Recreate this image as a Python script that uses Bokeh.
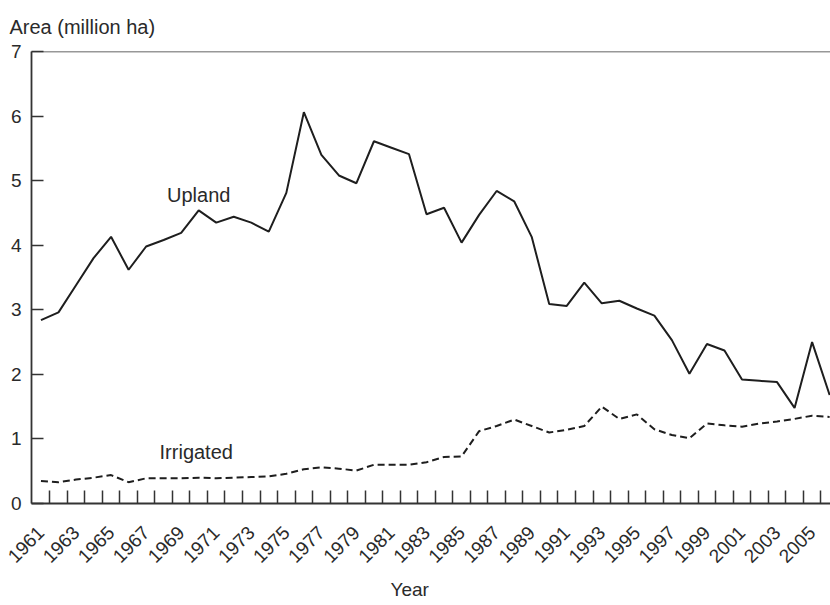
import math
from bokeh.plotting import figure
from bokeh.models import FixedTicker, Span, Label, Title, Range1d, ColumnDataSource
from bokeh.embed import file_html
from bokeh.resources import INLINE

years = list(range(1961, 2007))
upland = [2.84, 2.96, 3.38, 3.80, 4.13, 3.62, 3.98, 4.08, 4.19, 4.54,
          4.35, 4.44, 4.35, 4.21, 4.81, 6.06, 5.40, 5.08, 4.96, 5.61,
          5.51, 5.41, 4.48, 4.58, 4.04, 4.47, 4.84, 4.68, 4.13, 3.09,
          3.06, 3.42, 3.10, 3.14, 3.02, 2.91, 2.53, 2.01, 2.47, 2.37,
          1.92, 1.90, 1.88, 1.48, 2.50, 1.68]
irrigated = [0.35, 0.33, 0.37, 0.40, 0.44, 0.33, 0.39, 0.39, 0.39, 0.40,
             0.39, 0.40, 0.41, 0.42, 0.46, 0.53, 0.56, 0.54, 0.51, 0.60,
             0.60, 0.60, 0.64, 0.72, 0.73, 1.12, 1.20, 1.30, 1.20, 1.10,
             1.14, 1.20, 1.50, 1.31, 1.38, 1.15, 1.06, 1.01, 1.24, 1.21,
             1.19, 1.24, 1.27, 1.31, 1.36, 1.34]
label_years = list(range(1961, 2006, 2))
y_ticks = [0, 1, 2, 3, 4, 5, 6, 7]

FONT = "Liberation Sans"
TXT = "#2a2a2a"
AX = "#333333"

src = ColumnDataSource(dict(year=years, upland=upland, irrigated=irrigated))

p = figure(width=830, height=605, output_backend="svg", toolbar_location=None,
           x_range=Range1d(1960.46, 2006.05), y_range=Range1d(0, 7),
           min_border_left=31, min_border_right=0, min_border_top=51,
           min_border_bottom=101)
p.outline_line_color = None
p.xgrid.grid_line_color = None
p.ygrid.grid_line_color = None

p.line("year", "upland", source=src, line_color="#1e1e1e", line_width=2)
p.line("year", "irrigated", source=src, line_color="#1e1e1e", line_width=2,
       line_dash="7 4")

# top border line
p.add_layout(Span(location=7, dimension="width", line_color=AX, line_width=1.5))

# x axis
xa = p.xaxis[0]
xa.ticker = FixedTicker(ticks=label_years,
                        minor_ticks=[y + 0.5 for y in range(1961, 2006)])
xa.major_tick_in = 0
xa.major_tick_out = 0
xa.minor_tick_in = 13
xa.minor_tick_out = 0
xa.minor_tick_line_color = AX
xa.minor_tick_line_width = 1.5
xa.axis_line_color = AX
xa.axis_line_width = 1.8
xa.major_label_orientation = math.pi / 4
xa.major_label_standoff = 26
xa.major_label_text_font = FONT
xa.major_label_text_font_size = "19px"
xa.major_label_text_color = TXT

# y axis
ya = p.yaxis[0]
ya.ticker = FixedTicker(ticks=y_ticks)
ya.major_tick_in = 12
ya.major_tick_out = 0
ya.minor_tick_in = 0
ya.minor_tick_out = 0
ya.major_tick_line_color = AX
ya.major_tick_line_width = 1.5
ya.axis_line_color = AX
ya.axis_line_width = 1.8
ya.major_label_standoff = 10
ya.major_label_text_font = FONT
ya.major_label_text_font_size = "19px"
ya.major_label_text_color = TXT

# axis titles
p.add_layout(Title(text="Area (million ha)", align="left", vertical_align="top",
                   offset=-22, text_font=FONT, text_font_size="20px",
                   text_font_style="normal", text_color=TXT, standoff=24), "above")
p.add_layout(Title(text="Year", align="left", offset=359,
                   text_font=FONT, text_font_size="19px",
                   text_font_style="normal", text_color=TXT, standoff=11), "below")

# series labels
p.add_layout(Label(x=1970.0, y=4.78, text="Upland", text_align="center",
                   text_baseline="middle", text_font=FONT,
                   text_font_size="20px", text_color=TXT))
p.add_layout(Label(x=1969.86, y=0.79, text="Irrigated", text_align="center",
                   text_baseline="middle", text_font=FONT,
                   text_font_size="20px", text_color=TXT))

open("out.html", "w").write(file_html(p, INLINE))
